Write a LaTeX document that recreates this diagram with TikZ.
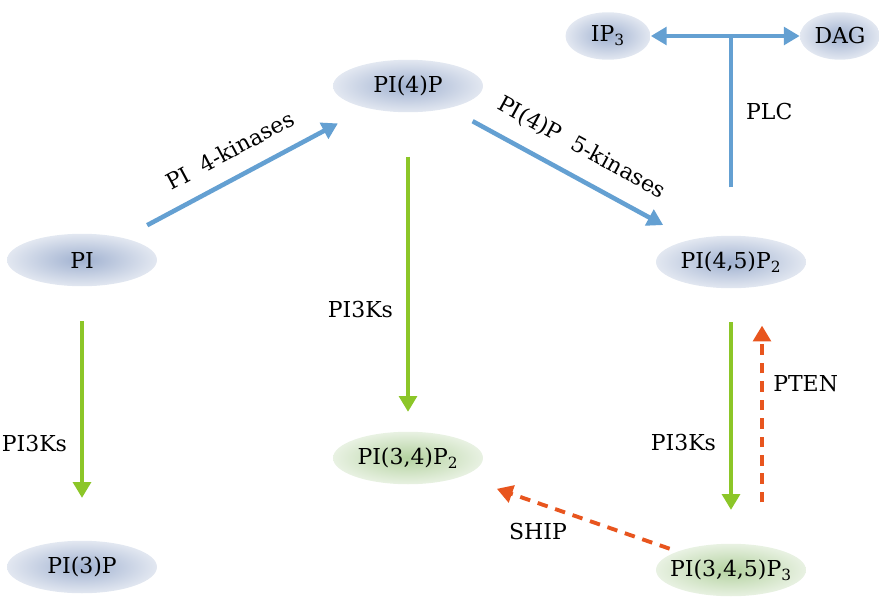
\documentclass[tikz,border=0pt]{standalone}
\usepackage{fontspec}
\setmainfont{DejaVu Serif}
\usetikzlibrary{arrows.meta,calc,shapes.geometric}

\definecolor{ellblue}{RGB}{160,177,208}
\definecolor{ellgreen}{RGB}{180,210,160}
\definecolor{lineblue}{RGB}{100,160,210}
\definecolor{linegreen}{RGB}{140,198,40}
\definecolor{lineorange}{RGB}{232,85,30}

\tikzset{
    lipid/.style={ellipse, shade, inner color=ellblue, outer color=ellblue!30,
        minimum width=3cm, minimum height=1.05cm, inner sep=0pt},
    lipid green/.style={lipid, inner color=ellgreen, outer color=ellgreen!30},
    small lipid/.style={lipid, minimum width=1.7cm, minimum height=0.95cm},
    blue arrow/.style={->, line width=2.6pt, draw=lineblue},
    green arrow/.style={->, line width=2.4pt, draw=linegreen},
    orange arrow/.style={->, line width=2.2pt, draw=lineorange, dash pattern=on 6pt off 4.5pt}
}

\begin{document}
\begin{tikzpicture}[x=0.02cm, y=-0.02cm, >={Triangle[width=10pt,length=9pt]},
    font=\fontsize{12.5}{14}\selectfont]
    \useasboundingbox (0,0) rectangle (879,602);

    % lipids
    \node[lipid] (PI) at (82,260) {PI};
    \node[lipid] (PI4P) at (408,86) {PI(4)P};
    \node[lipid] (PI45P2) at (731,262) {PI(4,5)P\textsubscript{2}};
    \node[small lipid] (IP3) at (608,36) {IP\textsubscript{3}};
    \node[small lipid, minimum width=1.6cm] (DAG) at (840,36) {DAG};
    \node[lipid] (PI3P) at (82,567) {PI(3)P};
    \node[lipid green] (PI34P2) at (408,458) {PI(3,4)P\textsubscript{2}};
    \node[lipid green, inner xsep=-8pt] (PI345P3) at (731,570) {PI(3,4,5)P\textsubscript{3}};

    % kinases
    \draw[blue arrow] ($(PI)!0.2!(PI4P)$) -- node[sloped, above=6pt] {PI~~4-kinases} ($(PI)!0.785!(PI4P)$);
    \draw[blue arrow] ($(PI4P)!0.2!(PI45P2)$) -- node[sloped, above=6pt] {PI(4)P~~5-kinases} ($(PI4P)!0.79!(PI45P2)$);

    % PLC
    \coordinate (split) at (PI45P2 |- IP3);
    \draw[line width=2.6pt, draw=lineblue] ($(PI45P2.north)+(0,-48)$) -- node[right=4pt] {PLC} (split);
    \draw[blue arrow, <->] (IP3) -- (DAG);

    % PI3Ks
    \draw[green arrow] ($(PI)!0.2!(PI3P)$) -- node[left=4pt, pos=0.69] {PI3Ks} ($(PI)!0.775!(PI3P)$);
    \draw[green arrow] ($(PI4P)!0.19!(PI34P2)$) -- node[left=4pt, pos=0.6] {PI3Ks} ($(PI4P)!0.876!(PI34P2)$);
    \draw[green arrow] ($(PI45P2)!0.195!(PI345P3)$) -- node[left=4pt, pos=0.64] {PI3Ks} ($(PI45P2)!0.805!(PI345P3)$);

    % phosphatases
    \draw[orange arrow] ($(PI345P3.north)+(31,-41)$) -- node[right=2pt, pos=0.67] {PTEN} ($(PI45P2.south)+(31,37)$);
    \draw[orange arrow] ($(PI345P3)!0.19!(PI34P2)$) -- node[below left, pos=0.55] {SHIP} ($(PI345P3)!0.725!(PI34P2)$);
\end{tikzpicture}
\end{document}
